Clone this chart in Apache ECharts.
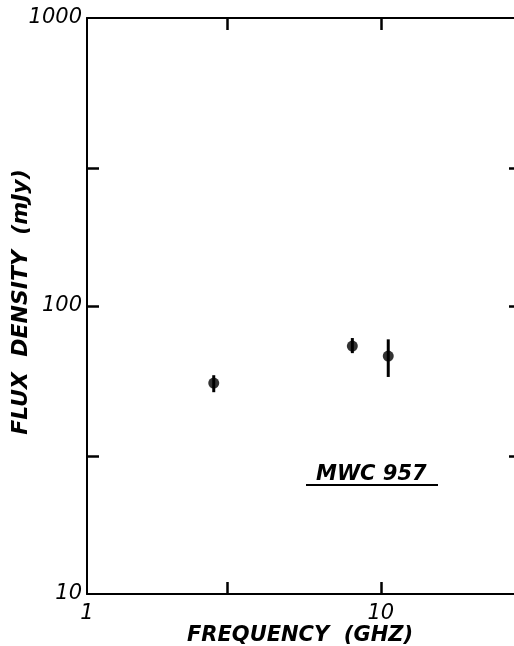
<!DOCTYPE html>
<html>
<head>
<meta charset="utf-8">
<script src="https://cdn.jsdelivr.net/npm/echarts@6/dist/echarts.min.js"></script>
<style>
  html, body { margin: 0; padding: 0; background: #fff; }
  #main { width: 514px; height: 646px; }
</style>
</head>
<body>
<div id="main"></div>
<script>
// measured points (GHz, mJy) with error bar ends
const freqGHz = [2.7, 8.0, 10.6]
const fluxMJy = [54, 72.6, 67]
const fluxLow = [50.2, 68.6, 56.7]
const fluxHigh = [57.5, 77.4, 76.6]

const xTicks = [3, 10]
const xLabels = [1, 10]
const yTicks = [30, 100, 300]
const yLabels = [10, 100, 1000]

const sourceName = 'MWC 957'

const ink = '#000'
const labelFont = {
  color: ink,
  fontFamily: 'DejaVu Sans',
  fontStyle: 'italic',
  fontSize: 21,
}
const titleFont = {
  color: ink,
  fontFamily: 'DejaVu Sans',
  fontStyle: 'italic',
  fontWeight: 'bold',
}

function echartInit() {
  const chartDom = document.getElementById('main')
  const myChart = echarts.init(chartDom, null, { renderer: 'canvas' })

  const axisLine = { show: true, onZero: false, lineStyle: { color: ink, width: 2 } }
  const tick = (vals) => ({
    show: true,
    inside: true,
    length: 12,
    customValues: vals,
    lineStyle: { color: ink, width: 2.5 },
  })

  const option = {
    animation: false,
    backgroundColor: '#fff',
    grid: { left: 87, right: -7, top: 18, bottom: 52, containLabel: false, outerBoundsMode: 'none' },
    xAxis: [
      {
        type: 'log',
        logBase: 10,
        min: 1,
        max: 30,
        position: 'bottom',
        axisLine,
        axisTick: tick(xTicks),
        axisLabel: { ...labelFont, margin: 9, customValues: xLabels, formatter: (v) => String(v) },
        splitLine: { show: false },
        name: 'FREQUENCY  (GHZ)',
        nameLocation: 'middle',
        nameGap: 31,
        nameMoveOverlap: false,
        nameTextStyle: { ...titleFont, fontSize: 21, padding: [0, 8, 0, 0] },
      },
      {
        type: 'log',
        logBase: 10,
        min: 1,
        max: 30,
        position: 'top',
        axisLine,
        axisTick: tick(xTicks),
        axisLabel: { show: false },
        splitLine: { show: false },
      },
    ],
    yAxis: [
      {
        type: 'log',
        logBase: 10,
        min: 10,
        max: 1000,
        position: 'left',
        axisLine,
        axisTick: tick(yTicks),
        axisLabel: { ...labelFont, margin: 5, customValues: yLabels, formatter: (v) => String(v) },
        splitLine: { show: false },
        name: 'FLUX  DENSITY  (mJy)',
        nameLocation: 'middle',
        nameRotate: 90,
        nameGap: 55,
        nameMoveOverlap: false,
        nameTextStyle: { ...titleFont, fontSize: 22, padding: [0, 0, 0, 8] },
      },
      {
        type: 'log',
        logBase: 10,
        min: 10,
        max: 1000,
        position: 'right',
        axisLine,
        axisTick: tick(yTicks),
        axisLabel: { show: false },
        splitLine: { show: false },
      },
    ],
    graphic: [
      {
        type: 'text',
        left: 316,
        top: 464,
        style: { text: sourceName, font: 'italic bold 21px "DejaVu Sans"', fill: ink },
      },
      {
        type: 'line',
        shape: { x1: 306, y1: 485, x2: 438, y2: 485 },
        style: { stroke: ink, lineWidth: 2 },
      },
    ],
    series: [
      {
        name: 'errors',
        type: 'custom',
        xAxisIndex: 0,
        yAxisIndex: 0,
        data: freqGHz.map((f, i) => [f, fluxLow[i], fluxHigh[i]]),
        renderItem(params, api) {
          const lo = api.coord([api.value(0), api.value(1)])
          const hi = api.coord([api.value(0), api.value(2)])
          return {
            type: 'line',
            shape: { x1: lo[0], y1: lo[1], x2: hi[0], y2: hi[1] },
            style: { stroke: ink, lineWidth: 3 },
          }
        },
        z: 3,
      },
      {
        name: 'flux',
        type: 'scatter',
        xAxisIndex: 0,
        yAxisIndex: 0,
        symbol: 'circle',
        symbolSize: 11,
        itemStyle: { color: ink },
        data: freqGHz.map((f, i) => [f, fluxMJy[i]]),
        z: 4,
      },
    ],
  }

  option && myChart.setOption(option)
}

echartInit()
</script>
</body>
</html>
